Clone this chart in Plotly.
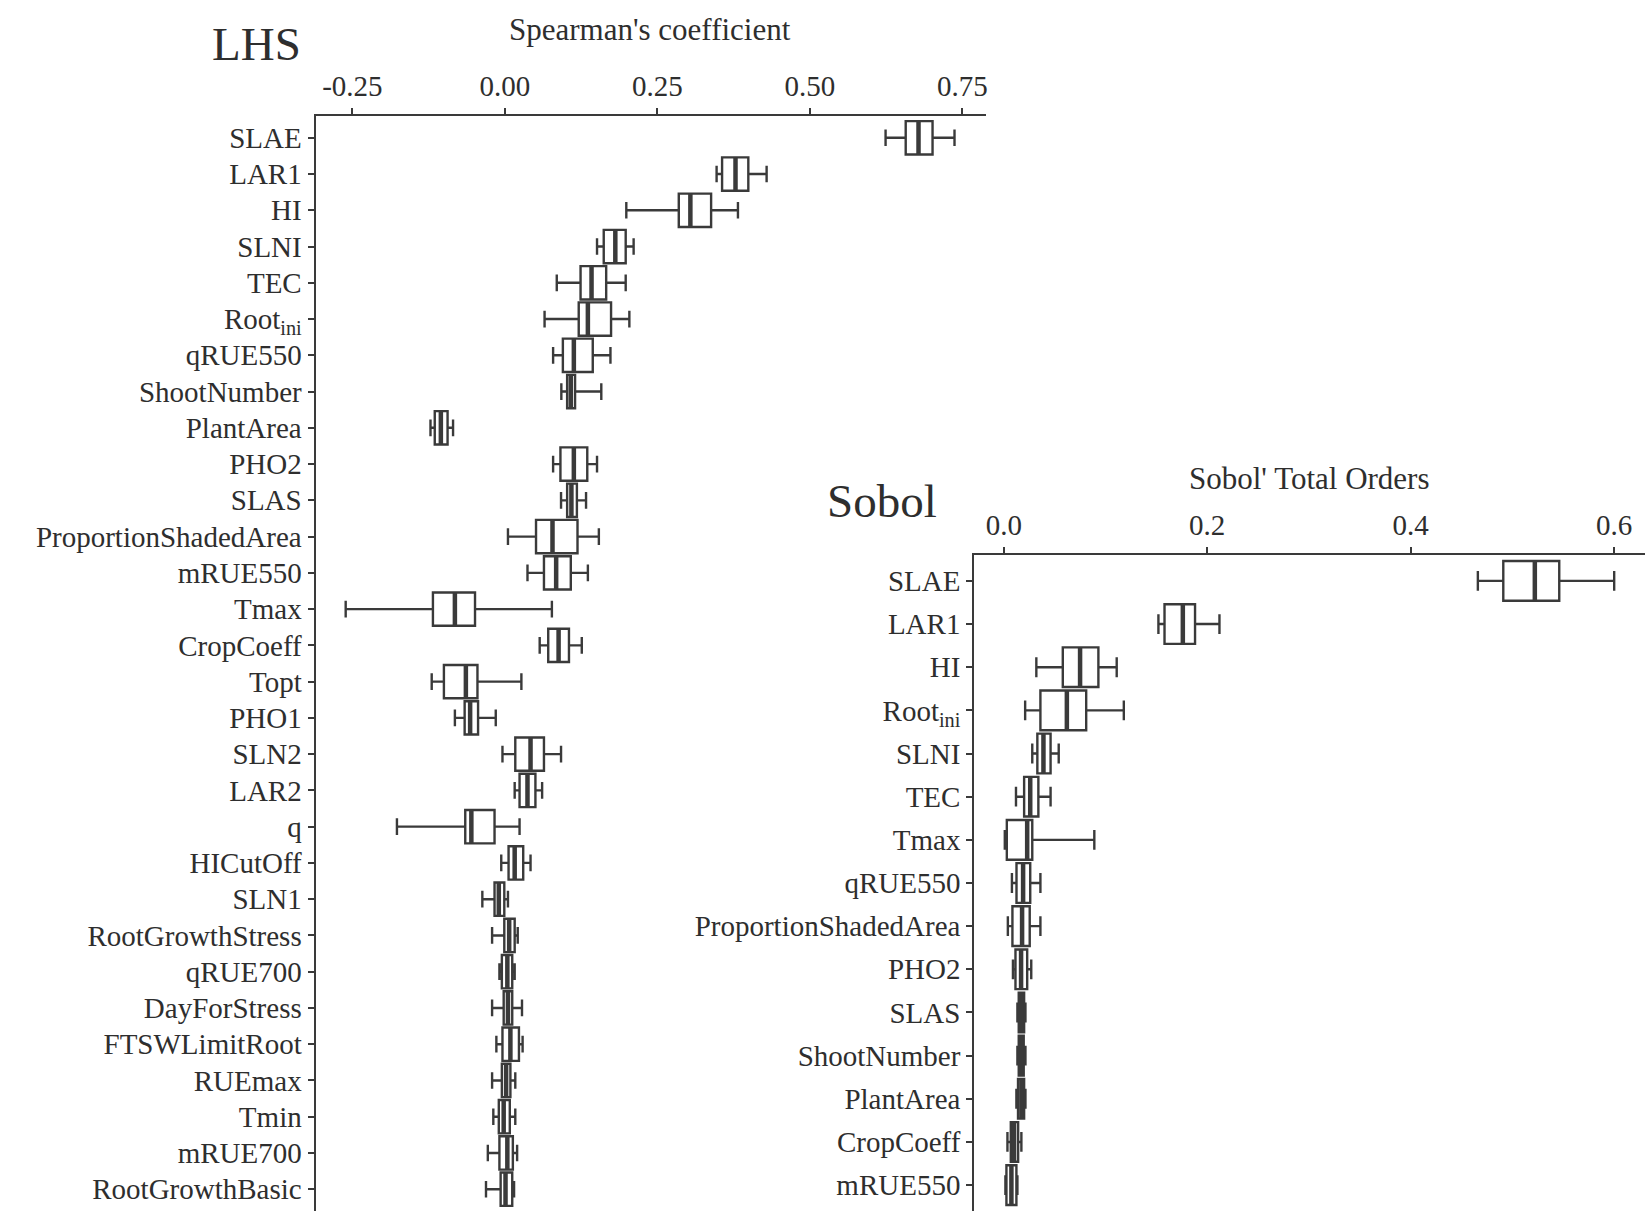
import plotly.graph_objects as go

# ---- LHS: Spearman's rank correlation per parameter (whisker low, Q1, median, Q3, whisker high)
lhs_params = ["SLAE", "LAR1", "HI", "SLNI", "TEC", "Root<sub>ini</sub>", "qRUE550",
              "ShootNumber", "PlantArea", "PHO2", "SLAS", "ProportionShadedArea",
              "mRUE550", "Tmax", "CropCoeff", "Topt", "PHO1", "SLN2", "LAR2", "q",
              "HICutOff", "SLN1", "RootGrowthStress", "qRUE700", "DayForStress",
              "FTSWLimitRoot", "RUEmax", "Tmin", "mRUE700", "RootGrowthBasic"]
lhs_low = [0.624, 0.347, 0.199, 0.151, 0.085, 0.065, 0.079, 0.0925, -0.122, 0.079,
           0.092, 0.005, 0.037, -0.261, 0.057, -0.120, -0.082, -0.004, 0.016, -0.177,
           -0.006, -0.037, -0.021, -0.009, -0.021, -0.014, -0.021, -0.019, -0.028, -0.031]
lhs_q1 = [0.657, 0.356, 0.285, 0.162, 0.124, 0.121, 0.095, 0.102, -0.115, 0.091,
          0.102, 0.051, 0.064, -0.118, 0.071, -0.100, -0.066, 0.017, 0.024, -0.065,
          0.006, -0.017, -0.001, -0.005, -0.002, -0.004, -0.005, -0.010, -0.009, -0.007]
lhs_med = [0.678, 0.378, 0.304, 0.181, 0.142, 0.136, 0.113, 0.108, -0.105, 0.113,
           0.109, 0.078, 0.084, -0.082, 0.088, -0.064, -0.057, 0.042, 0.037, -0.055,
           0.016, -0.010, 0.007, 0.004, 0.005, 0.009, 0.002, -0.002, 0.004, 0.001]
lhs_q3 = [0.701, 0.399, 0.338, 0.198, 0.166, 0.174, 0.144, 0.115, -0.094, 0.135,
          0.118, 0.119, 0.108, -0.049, 0.105, -0.045, -0.044, 0.064, 0.050, -0.017,
          0.030, -0.001, 0.016, 0.012, 0.012, 0.023, 0.009, 0.008, 0.013, 0.012]
lhs_high = [0.737, 0.429, 0.382, 0.211, 0.198, 0.204, 0.173, 0.158, -0.085, 0.151,
            0.133, 0.154, 0.136, 0.077, 0.126, 0.027, -0.015, 0.092, 0.061, 0.024,
            0.042, 0.005, 0.021, 0.016, 0.028, 0.029, 0.017, 0.017, 0.020, 0.015]
lhs_ticks = [-0.25, 0.0, 0.25, 0.5, 0.75]
lhs_ticktext = ["-0.25", "0.00", "0.25", "0.50", "0.75"]

# ---- Sobol: total-order indices per parameter
sob_params = ["SLAE", "LAR1", "HI", "Root<sub>ini</sub>", "SLNI", "TEC", "Tmax",
              "qRUE550", "ProportionShadedArea", "PHO2", "SLAS", "ShootNumber",
              "PlantArea", "CropCoeff", "mRUE550"]
sob_low = [0.466, 0.152, 0.032, 0.021, 0.028, 0.012, 0.001, 0.008, 0.004, 0.009,
           0.0134, 0.0134, 0.0124, 0.0036, 0.0016]
sob_q1 = [0.491, 0.158, 0.058, 0.036, 0.033, 0.020, 0.003, 0.0125, 0.0085, 0.0115,
          0.0147, 0.0147, 0.0140, 0.0069, 0.0026]
sob_med = [0.522, 0.176, 0.075, 0.062, 0.039, 0.026, 0.023, 0.019, 0.018, 0.017,
           0.0173, 0.0170, 0.0173, 0.0101, 0.0075]
sob_q3 = [0.546, 0.188, 0.093, 0.081, 0.046, 0.034, 0.028, 0.026, 0.0255, 0.023,
          0.0200, 0.0196, 0.0200, 0.0141, 0.0124]
sob_high = [0.600, 0.212, 0.111, 0.118, 0.054, 0.046, 0.089, 0.036, 0.036, 0.027,
            0.0213, 0.0213, 0.0213, 0.0173, 0.0134]
sob_ticks = [0.0, 0.2, 0.4, 0.6]
sob_ticktext = ["0.0", "0.2", "0.4", "0.6"]

W, H = 1651, 1211
EDGE = "#3a3a3a"
TEXT = "#2e2e2e"
FONT = "Liberation Serif"


def px_x(p):
    return p / W


def px_y(p):
    return 1 - p / H


fig = go.Figure()


def add_boxes(cats, lo, q1, med, q3, hi, xa, ya):
    # box, whiskers and caps
    fig.add_trace(go.Box(
        y=cats, q1=q1, median=med, q3=q3, lowerfence=lo, upperfence=hi,
        orientation="h", width=0.92, whiskerwidth=0.5, boxpoints=False,
        fillcolor="white", line=dict(color=EDGE, width=2.4),
        xaxis=xa, yaxis=ya, showlegend=False, hoverinfo="skip"))
    # heavier median stroke
    fig.add_trace(go.Box(
        y=cats, q1=med, median=med, q3=med, lowerfence=med, upperfence=med,
        orientation="h", width=0.92, whiskerwidth=0, boxpoints=False,
        fillcolor="rgba(0,0,0,0)", line=dict(color=EDGE, width=4.5),
        xaxis=xa, yaxis=ya, showlegend=False, hoverinfo="skip"))


add_boxes(lhs_params, lhs_low, lhs_q1, lhs_med, lhs_q3, lhs_high, "x", "y")
add_boxes(sob_params, sob_low, sob_q1, sob_med, sob_q3, sob_high, "x2", "y2")

tickfont = dict(family=FONT, size=29, color=TEXT)
common_x = dict(side="top", showline=True, linecolor=EDGE, linewidth=2.2,
                ticks="outside", ticklen=6, tickwidth=2, tickcolor=EDGE,
                showgrid=False, zeroline=False, tickfont=tickfont, fixedrange=True)
common_y = dict(type="category", showline=True, linecolor=EDGE, linewidth=2.2,
                ticks="outside", ticklen=6, tickwidth=2, tickcolor=EDGE,
                showgrid=False, zeroline=False, tickfont=tickfont, fixedrange=True)

# pixel geometry of the two panels
lhs_left, lhs_right, lhs_top = 316, 987, 116
sob_left, sob_right, sob_top = 975.5, 1647, 555

fig.update_layout(
    width=W, height=H,
    margin=dict(l=0, r=0, t=0, b=0),
    paper_bgcolor="white", plot_bgcolor="rgba(0,0,0,0)",
    boxmode="overlay",
    xaxis=dict(domain=[px_x(lhs_left), px_x(lhs_right)], anchor="y",
               range=[-0.3103, 0.7883], tickvals=lhs_ticks, ticktext=lhs_ticktext,
               **common_x),
    yaxis=dict(domain=[0, px_y(lhs_top)], anchor="x",
               categoryorder="array", categoryarray=lhs_params,
               range=[len(lhs_params) - 0.4, -0.6], **common_y),
    xaxis2=dict(domain=[px_x(sob_left), px_x(sob_right)], anchor="y2",
                range=[-0.02896, 0.6303], tickvals=sob_ticks, ticktext=sob_ticktext,
                **common_x),
    yaxis2=dict(domain=[0, px_y(sob_top)], anchor="x2",
                categoryorder="array", categoryarray=sob_params,
                range=[len(sob_params) - 0.4, -0.6], **common_y),
    annotations=[
        dict(text="LHS", x=px_x(257), y=px_y(44), xref="paper", yref="paper",
             xanchor="center", yanchor="middle", showarrow=False,
             font=dict(family=FONT, size=47, color=TEXT)),
        dict(text="Spearman's coefficient", x=px_x(651), y=px_y(29),
             xref="paper", yref="paper", xanchor="center", yanchor="middle",
             showarrow=False, font=dict(family=FONT, size=31, color=TEXT)),
        dict(text="Sobol", x=px_x(883.5), y=px_y(501), xref="paper", yref="paper",
             xanchor="center", yanchor="middle", showarrow=False,
             font=dict(family=FONT, size=47, color=TEXT)),
        dict(text="Sobol' Total Orders", x=px_x(1311), y=px_y(478),
             xref="paper", yref="paper", xanchor="center", yanchor="middle",
             showarrow=False, font=dict(family=FONT, size=31, color=TEXT)),
    ],
)

fig.write_html("out.html")
